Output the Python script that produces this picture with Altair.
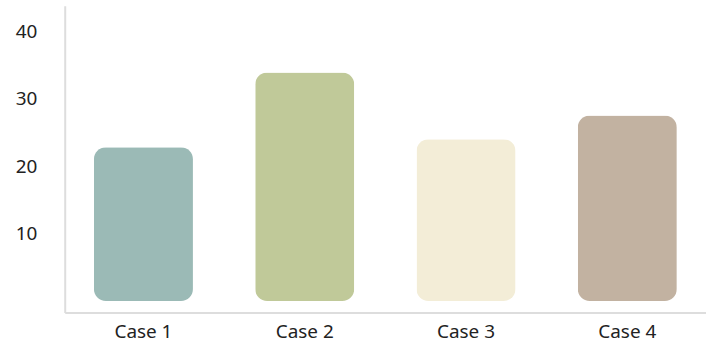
import altair as alt
import pandas as pd

cases = ["Case 1", "Case 2", "Case 3", "Case 4"]
values = [22.8, 33.9, 24.0, 27.5]
colors = ["#9BBAB6", "#C0C999", "#F3EDD7", "#C2B2A1"]

df = pd.DataFrame({"case": cases, "value": values})

font = "Noto Sans"

chart = (
    alt.Chart(df)
    .mark_bar(cornerRadius=12)
    .encode(
        x=alt.X(
            "case:N",
            sort=cases,
            title=None,
            scale=alt.Scale(paddingInner=0.386, paddingOuter=0.181, round=False),
            axis=alt.Axis(
                labelAngle=0,
                labelFontSize=19,
                labelColor="#222222",
                labelFont=font,
                labelPadding=10,
                ticks=False,
                domainColor="#DDDDDD",
                domainWidth=2,
                grid=False,
            ),
        ),
        y=alt.Y(
            "value:Q",
            title=None,
            scale=alt.Scale(domain=[-1.7, 43.8], nice=False, zero=False),
            axis=alt.Axis(
                values=[10, 20, 30, 40],
                labelFontSize=19,
                labelColor="#222222",
                labelFont=font,
                labelPadding=28,
                ticks=False,
                domainColor="#DDDDDD",
                domainWidth=2,
                grid=False,
            ),
        ),
        color=alt.Color(
            "case:N",
            sort=cases,
            scale=alt.Scale(domain=cases, range=colors),
            legend=None,
        ),
    )
    .properties(
        width=644,
        height=308,
        autosize=alt.AutoSizeParams(type="none"),
        padding={"left": 65, "top": 5, "right": 0, "bottom": 37},
        background="white",
    )
    .configure_view(strokeWidth=0, stroke=None)
)

chart.save("out.html", embed_options={"renderer": "svg", "actions": False})
